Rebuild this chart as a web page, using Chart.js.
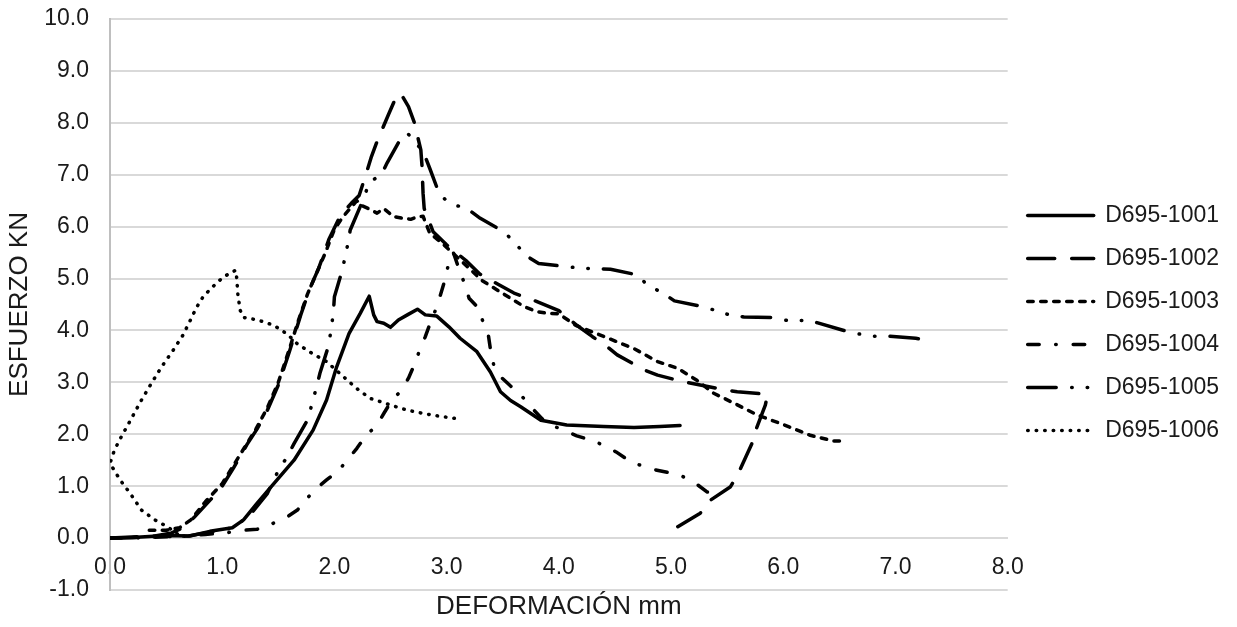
<!DOCTYPE html>
<html>
<head>
<meta charset="utf-8">
<script src="https://cdn.jsdelivr.net/npm/chart.js@4.4.1/dist/chart.umd.min.js"></script>
<style>
  body { margin: 0; background: #fff; }
  #wrap { width: 1237px; height: 627px; }
</style>
</head>
<body>
<div id="wrap"><canvas id="chart" width="1237" height="627"></canvas></div>
<script>
// series names
const seriesNames = ['D695-1001', 'D695-1002', 'D695-1003', 'D695-1004', 'D695-1005', 'D695-1006'];

// [deformation mm, stress kN]
const d1001 = [[0,0],[0.2,0.01],[0.5,0.05],[0.71,0.04],[0.89,0.13],[1.09,0.2],[1.19,0.35],[1.31,0.67],[1.46,1.05],[1.64,1.5],[1.81,2.08],[1.93,2.66],[2.02,3.3],[2.13,3.94],[2.23,4.33],[2.31,4.66],[2.35,4.3],[2.38,4.17],[2.44,4.14],[2.5,4.06],[2.57,4.2],[2.65,4.3],[2.74,4.41],[2.81,4.3],[2.91,4.28],[3.02,4.07],[3.12,3.85],[3.27,3.59],[3.39,3.2],[3.48,2.82],[3.57,2.65],[3.66,2.53],[3.84,2.27],[4.07,2.18],[4.4,2.15],[4.67,2.13],[4.9,2.15],[5.08,2.17]];
const d1002 = [[0,0],[0.2,0.02],[0.4,0.04],[0.55,0.1],[0.65,0.2],[0.75,0.4],[0.9,0.75],[1.0,1.0],[1.1,1.35],[1.22,1.8],[1.31,2.1],[1.4,2.45],[1.5,2.95],[1.6,3.6],[1.7,4.3],[1.78,4.8],[1.86,5.2],[1.95,5.75],[2.05,6.2],[2.15,6.45],[2.22,6.6],[2.28,7.0],[2.33,7.35],[2.38,7.64],[2.48,8.15],[2.55,8.5],[2.59,8.57],[2.66,8.31],[2.71,8.02],[2.77,7.48],[2.78,7.19],[2.79,6.64],[2.8,6.35],[2.88,5.9],[3.0,5.65],[3.17,5.35],[3.3,5.08],[3.45,4.9],[3.6,4.72],[3.8,4.56],[4.0,4.38],[4.16,4.1],[4.3,3.88],[4.43,3.69],[4.52,3.53],[4.76,3.24],[4.88,3.14],[5.11,3.01],[5.26,2.95],[5.49,2.85],[5.59,2.82],[5.86,2.77],[5.84,2.56],[5.75,2.05],[5.72,1.82],[5.6,1.25],[5.53,0.99],[5.35,0.73],[5.26,0.48],[5.06,0.22]];
const d1003 = [[0.35,0.15],[0.5,0.15],[0.62,0.2],[0.72,0.35],[0.85,0.7],[1.0,1.05],[1.1,1.4],[1.2,1.75],[1.3,2.1],[1.4,2.5],[1.5,3.0],[1.6,3.65],[1.68,4.2],[1.76,4.7],[1.84,5.1],[1.92,5.5],[2.0,5.95],[2.08,6.2],[2.14,6.35],[2.2,6.5],[2.25,6.4],[2.3,6.35],[2.38,6.26],[2.44,6.35],[2.53,6.19],[2.62,6.16],[2.68,6.14],[2.74,6.19],[2.79,6.2],[2.85,5.87],[2.95,5.7],[3.05,5.5],[3.2,5.2],[3.31,4.97],[3.45,4.78],[3.57,4.62],[3.69,4.46],[3.81,4.36],[3.9,4.33],[4.0,4.32],[4.15,4.1],[4.37,3.91],[4.52,3.78],[4.67,3.65],[4.88,3.4],[5.06,3.27],[5.23,3.04],[5.38,2.79],[5.56,2.6],[5.77,2.37],[6.01,2.18],[6.24,1.98],[6.45,1.87],[6.54,1.87]];
const d1004 = [[0,0],[0.3,0.01],[0.6,0.03],[0.85,0.07],[1.06,0.11],[1.19,0.15],[1.31,0.17],[1.44,0.27],[1.58,0.41],[1.67,0.54],[1.75,0.75],[1.84,0.96],[1.93,1.12],[2.04,1.31],[2.13,1.54],[2.2,1.73],[2.28,1.97],[2.38,2.18],[2.44,2.4],[2.51,2.65],[2.6,2.85],[2.66,3.08],[2.71,3.33],[2.76,3.62],[2.81,3.88],[2.85,4.12],[2.9,4.39],[2.94,4.65],[2.98,4.94],[3.03,5.4],[3.06,5.5],[3.1,5.25],[3.17,4.84],[3.2,4.62],[3.27,4.46],[3.33,4.14],[3.37,3.94],[3.39,3.64],[3.42,3.33],[3.48,3.11],[3.57,2.93],[3.66,2.76],[3.75,2.53],[3.85,2.3],[3.93,2.18],[4.04,2.08],[4.16,1.97],[4.28,1.89],[4.4,1.79],[4.51,1.66],[4.62,1.5],[4.74,1.39],[4.85,1.32],[4.98,1.26],[5.1,1.19],[5.21,1.07],[5.32,0.89],[5.44,0.86]];
const d1005 = [[0,0],[0.4,0.02],[0.7,0.04],[0.9,0.12],[1.1,0.2],[1.25,0.45],[1.4,0.85],[1.5,1.3],[1.58,1.57],[1.64,1.82],[1.77,2.31],[1.8,2.6],[1.84,2.9],[1.87,3.17],[1.95,3.72],[1.99,4.33],[2.0,4.65],[2.07,5.16],[2.1,5.47],[2.13,5.77],[2.14,5.93],[2.26,6.54],[2.31,6.85],[2.42,7.01],[2.47,7.23],[2.6,7.73],[2.65,7.8],[2.72,7.64],[2.8,7.4],[2.85,7.12],[2.94,6.6],[3.05,6.43],[3.18,6.35],[3.3,6.16],[3.51,5.9],[3.61,5.69],[3.7,5.45],[3.82,5.29],[4.06,5.23],[4.2,5.2],[4.46,5.18],[4.7,5.07],[4.79,4.87],[4.92,4.73],[5.03,4.57],[5.26,4.47],[5.39,4.39],[5.52,4.3],[5.65,4.26],[5.9,4.25],[6.04,4.19],[6.17,4.19],[6.3,4.15],[6.54,4.0],[6.68,3.93],[6.81,3.89],[6.94,3.89],[7.18,3.85],[7.33,3.8]];
const d1006 = [[0.6,0.08],[0.51,0.22],[0.4,0.35],[0.28,0.54],[0.18,0.86],[0.09,1.12],[0,1.44],[0.04,1.7],[0.1,1.95],[0.19,2.3],[0.27,2.62],[0.36,2.95],[0.46,3.3],[0.56,3.61],[0.65,3.91],[0.71,4.17],[0.77,4.44],[0.83,4.65],[0.91,4.83],[1.01,5.03],[1.12,5.16],[1.13,5.0],[1.14,4.68],[1.16,4.39],[1.19,4.25],[1.32,4.2],[1.46,4.1],[1.58,3.93],[1.67,3.74],[1.8,3.56],[1.93,3.4],[2.08,3.11],[2.2,2.88],[2.32,2.69],[2.45,2.6],[2.59,2.5],[2.72,2.43],[2.87,2.37],[3.09,2.3]];

const allSeries = [d1001, d1002, d1003, d1004, d1005, d1006];

// axis ranges / ticks
const xMin = 0, xMax = 8, xStep = 1;
const yMin = -1, yMax = 10, yStep = 1;

// line styles (round caps add to visible dash length)
const dashes = [[], [27, 17], [5.5, 7.5], [11.5, 16.5, 0.5, 17], [28.5, 15.5, 0.5, 15, 0.5, 15], [0.5, 8]];
const LINE_W = 3.5;

const FONT = '"Liberation Sans", Arial, sans-serif';
const TXT = '#1a1a1a';

const datasets = allSeries.map((pts, i) => ({
    label: seriesNames[i],
    data: pts.map(p => ({ x: p[0], y: p[1] })),
    borderColor: '#000',
    backgroundColor: '#000',
    borderWidth: LINE_W,
    borderDash: dashes[i],
    borderCapStyle: 'round',
    borderJoinStyle: 'round',
    showLine: true,
    fill: false,
    pointRadius: 0,
    tension: 0
}));

// legend samples should use the dataset line style, not the point style
function legendLabels(chart) {
    const items = Chart.defaults.plugins.legend.labels.generateLabels(chart);
    return items.map((it, i) => Object.assign(it, {
        lineDash: dashes[i],
        lineWidth: LINE_W,
        lineCap: 'round',
        strokeStyle: '#000',
        fillStyle: '#000',
        pointStyle: 'line'
    }));
}

new Chart(document.getElementById('chart').getContext('2d'), {
    type: 'scatter',
    data: { datasets: datasets },
    options: {
        responsive: false,
        animation: false,
        layout: { padding: { left: 0, right: 8, top: 19, bottom: 0 } },
        plugins: {
            tooltip: { enabled: false },
            legend: {
                position: 'right',
                labels: {
                    usePointStyle: true,
                    pointStyle: 'line',
                    pointStyleWidth: 66,
                    padding: 20,
                    color: TXT,
                    font: { family: FONT, size: 23 },
                    generateLabels: legendLabels
                }
            }
        },
        scales: {
            x: {
                type: 'linear',
                position: { y: 0 },   // labels sit under the zero line, like Excel
                min: xMin, max: xMax,
                grid: { display: false, drawTicks: false },
                border: { display: true, color: '#d9d9d9', width: 2 },
                ticks: {
                    stepSize: xStep,
                    padding: 16,
                    maxRotation: 0,
                    color: TXT,
                    font: { family: FONT, size: 23 },
                    callback: v => v.toFixed(1)
                },
                title: {
                    display: true,
                    text: 'DEFORMACIÓN mm',
                    color: TXT,
                    font: { family: FONT, size: 26 },
                    padding: { top: 0, bottom: -47 }
                },
                afterFit: s => {
                    s.height = 37;
                    s.paddingBottom = 37;   // keep room under the plot for the title
                }
            },
            y: {
                type: 'linear',
                min: yMin, max: yMax,
                grid: { color: '#d9d9d9', lineWidth: 2, drawTicks: false },
                border: { display: true, color: '#bfbfbf', width: 2 },
                ticks: {
                    stepSize: yStep,
                    padding: 21,
                    color: TXT,
                    font: { family: FONT, size: 23 },
                    callback: v => v.toFixed(1)
                },
                title: {
                    display: true,
                    text: 'ESFUERZO KN',
                    color: TXT,
                    font: { family: FONT, size: 26 },
                    padding: { top: 4, bottom: 0 }
                },
                afterFit: s => {
                    s.width = 110;
                    s.paddingTop = 0;
                    s.paddingBottom = 0;
                }
            }
        }
    }
});
</script>
</body>
</html>
